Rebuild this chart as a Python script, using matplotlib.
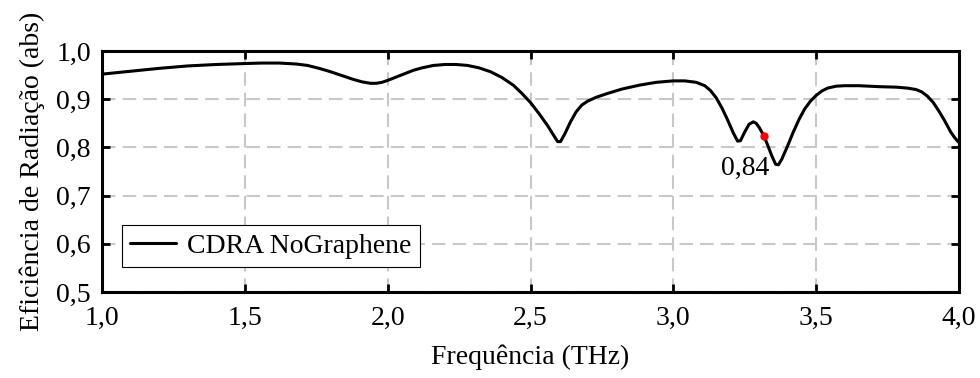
import matplotlib
matplotlib.use('Agg')
import matplotlib.pyplot as plt

# dados
freq = [1.00, 1.10, 1.20, 1.30, 1.40, 1.50, 1.56, 1.62, 1.68, 1.72, 1.76, 1.80, 1.84,
        1.88, 1.91, 1.94, 1.96, 1.98, 2.00, 2.03, 2.06, 2.09, 2.12, 2.16, 2.20, 2.24,
        2.28, 2.32, 2.36, 2.40, 2.44, 2.47, 2.50, 2.53, 2.56, 2.58, 2.595, 2.605, 2.62,
        2.64, 2.66, 2.68, 2.70, 2.73, 2.77, 2.82, 2.88, 2.94, 3.00, 3.04, 3.08, 3.11,
        3.13, 3.15, 3.17, 3.19, 3.21, 3.225, 3.235, 3.25, 3.265, 3.28, 3.29, 3.30,
        3.317, 3.33, 3.345, 3.358, 3.368, 3.38, 3.40, 3.42, 3.44, 3.46, 3.48, 3.50,
        3.52, 3.54, 3.57, 3.60, 3.65, 3.72, 3.78, 3.82, 3.85, 3.87, 3.89, 3.91, 3.93,
        3.95, 3.97, 3.985, 4.00]
eficiencia = [0.952, 0.958, 0.964, 0.969, 0.972, 0.974, 0.975, 0.975, 0.973, 0.970, 0.964,
              0.957, 0.949, 0.941, 0.936, 0.933, 0.933, 0.935, 0.939, 0.946, 0.953, 0.960,
              0.965, 0.970, 0.972, 0.972, 0.970, 0.965, 0.957, 0.945, 0.929, 0.912, 0.893,
              0.870, 0.845, 0.826, 0.812, 0.812, 0.828, 0.853, 0.874, 0.888, 0.896, 0.904,
              0.912, 0.921, 0.929, 0.935, 0.938, 0.938, 0.935, 0.928, 0.918, 0.903, 0.882,
              0.857, 0.830, 0.813, 0.814, 0.832, 0.848, 0.853, 0.850, 0.842, 0.824, 0.805,
              0.782, 0.765, 0.764, 0.776, 0.803, 0.832, 0.858, 0.880, 0.896, 0.908, 0.917,
              0.923, 0.927, 0.928, 0.928, 0.926, 0.925, 0.923, 0.920, 0.915, 0.906, 0.893,
              0.875, 0.855, 0.833, 0.820, 0.810]

ponto_x = 3.317
ponto_y = 0.824
rotulo = '0,84'

xticks = [1.0, 1.5, 2.0, 2.5, 3.0, 3.5, 4.0]
yticks = [0.5, 0.6, 0.7, 0.8, 0.9, 1.0]

plt.rcParams['font.family'] = 'Liberation Serif'

fig = plt.figure(figsize=(9.8, 3.78), dpi=100)
ax = fig.add_axes([102/980, 1 - 292/378, (959-102)/980, (292-51)/378])

ax.plot(freq, eficiencia, color='black', lw=2.2, solid_joinstyle='round',
        solid_capstyle='round', label='CDRA NoGraphene')
ax.plot(ponto_x, ponto_y, 'o', color='red', ms=5, zorder=5)
ax.text(3.25, 0.757, rotulo, fontsize=20, ha='center', va='center')

ax.set_xlim(1.0, 4.0)
ax.set_ylim(0.5, 1.0)
ax.set_xticks(xticks)
ax.set_yticks(yticks)
ax.set_xticklabels([f'{v:.1f}'.replace('.', ',') for v in xticks])
ax.set_yticklabels([f'{v:.1f}'.replace('.', ',') for v in yticks])
ax.grid(True, color='#c8c8c8', ls=(0, (6.5, 3.4)), lw=1.5)
ax.tick_params(direction='in', length=6, width=2, labelsize=20, top=True, right=True)
ax.tick_params(axis='x', pad=10)
ax.tick_params(axis='y', pad=8)
for s in ax.spines.values():
    s.set_linewidth(2.2)

ax.set_xlabel('Frequência (THz)', fontsize=20, labelpad=10)
ax.set_ylabel('Eficiência de Radiação (abs)', fontsize=20, labelpad=8)

leg = ax.legend(loc='lower left', bbox_to_anchor=(0.023, 0.104), fontsize=20, fancybox=False,
                edgecolor='black', framealpha=1, borderpad=0.3, borderaxespad=0,
                handlelength=1.65, handletextpad=0.4)
leg.get_frame().set_linewidth(0.8)

fig.savefig('out.png', dpi=100)
